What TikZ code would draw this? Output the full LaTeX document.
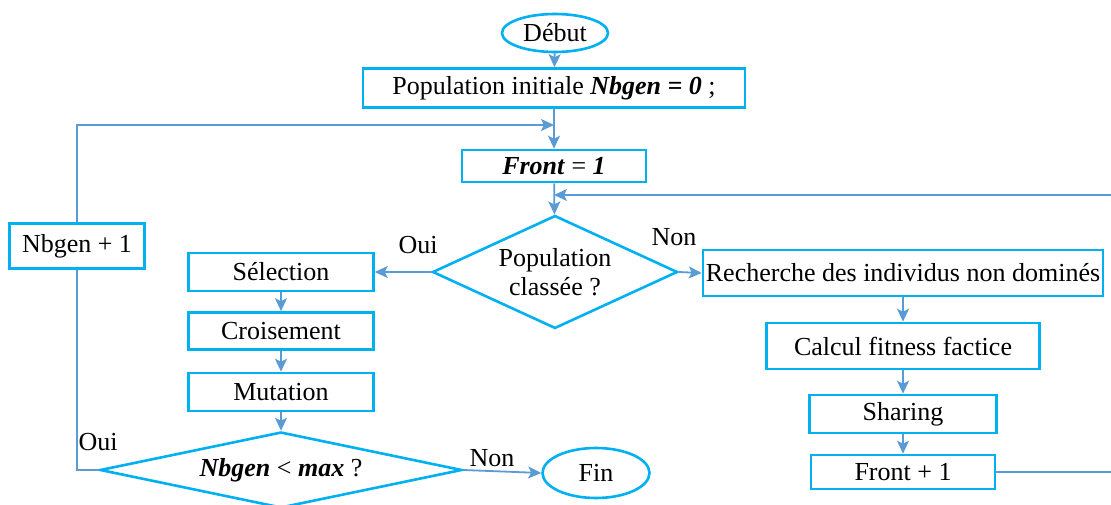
\documentclass[tikz,border=0pt]{standalone}
\usepackage{fontspec}
\setmainfont{Liberation Serif}
\usepackage{xcolor}
\usetikzlibrary{shapes.geometric,arrows.meta}

\definecolor{boxblue}{HTML}{00B0F0}
\definecolor{linkblue}{HTML}{5B9BD5}

\begin{document}
\begin{tikzpicture}[x=1pt,y=-1pt,
  every node/.style={font=\fontsize{26}{29}\selectfont},
  box/.style={draw=boxblue,line width=2.6pt,inner sep=0pt},
  term/.style={draw=boxblue,line width=2.6pt,ellipse,inner sep=0pt},
  test/.style={draw=boxblue,line width=2.6pt,diamond,inner sep=0pt,align=center},
  link/.style={draw=linkblue,line width=1.8pt,-{Stealth[length=13pt,width=12pt,inset=3pt]}},
  wire/.style={draw=linkblue,line width=1.8pt}]
\clip (0,0) rectangle (1111,505);

% central column
\node[term,minimum width=106pt,minimum height=38pt] (debut) at (555,33) {Début};
\node[box,minimum width=382pt,minimum height=39pt] (init) at (554,88) {Population initiale \textbf{\textit{Nbgen = 0}} ;};
\node[box,minimum width=184pt,minimum height=32pt] (front) at (554,166) {\textbf{\textit{Front}} = \textbf{\textit{1}}};
\node[test,aspect=2.17,minimum width=245pt,minimum height=113pt] (classee) at (555,272) {Population\\classée ?};

% genetic operators
\node[box,minimum width=185pt,minimum height=38pt] (selection) at (281,272) {Sélection};
\node[box,minimum width=185pt,minimum height=37pt] (croisement) at (281,331) {Croisement};
\node[box,minimum width=185pt,minimum height=38pt] (mutation) at (281,392) {Mutation};
\node[test,aspect=4.76,minimum width=362pt,minimum height=76pt] (nbtest) at (281,470) {\textbf{\textit{Nbgen}} < \textbf{\textit{max}} ?};
\node[term,minimum width=107pt,minimum height=50pt] (fin) at (596,473) {Fin};
\node[box,minimum width=135pt,minimum height=45pt] (nbplus) at (77,246) {Nbgen + 1};

% ranking of the fronts
\node[box,minimum width=400pt,minimum height=46pt] (recherche) at (903,273) {Recherche des individus non dominés};
\node[box,minimum width=273pt,minimum height=46pt] (fitness) at (903,346) {Calcul fitness factice};
\node[box,minimum width=187pt,minimum height=38pt] (sharing) at (903,414) {Sharing};
\node[box,minimum width=184pt,minimum height=34pt] (fplus) at (903,472) {Front + 1};

% branch labels
\node (oui1) at (418,245) {Oui};
\node (non1) at (674,237) {Non};
\node (oui2) at (98,442) {Oui};
\node (non2) at (492,458) {Non};

\coordinate (loopin) at (554,125);
\coordinate (backin) at (554,195);
\coordinate (rightedge) at (1120,195);

\draw[link] (debut) -- (init);
\draw[link] (init) -- (front);
\draw[link] (front) -- (classee);
\draw[link] (classee.west) -- (selection.east);
\draw[link] (classee.east) -- (recherche.west);
\draw[link] (selection) -- (croisement);
\draw[link] (croisement) -- (mutation);
\draw[link] (mutation) -- (nbtest);
\draw[link] (nbtest.east) -- (fin.west);
\draw[wire] (nbtest.west) -| (nbplus.south);
\draw[link] (nbplus.north) |- (loopin);
\draw[link] (recherche) -- (fitness);
\draw[link] (fitness) -- (sharing);
\draw[link] (sharing) -- (fplus);
\draw[link] (fplus.east) -| (rightedge) -- (backin);
\end{tikzpicture}
\end{document}
